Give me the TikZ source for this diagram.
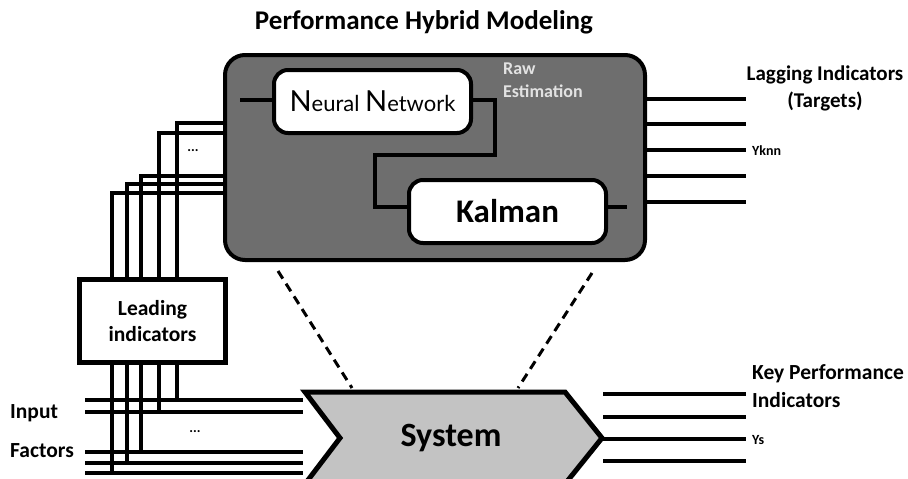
\documentclass[tikz,border=0pt]{standalone}
\usepackage{fontspec}
\setmainfont{Carlito}
\newfontfamily\nnfont{Lato}
\definecolor{darkpanel}{HTML}{6E6E6E}
\definecolor{syspanel}{HTML}{C3C3C3}
\definecolor{rawtext}{HTML}{E2E2E2}
\begin{document}
\begin{tikzpicture}[x=1pt,y=-1pt,
  wire/.style={line width=3.2pt},
  lbl/.style={font=\fontsize{21.5}{24}\selectfont\bfseries, inner sep=0pt},
  small/.style={font=\fontsize{14}{15}\selectfont\bfseries, inner sep=0pt},
  whitebox/.style={draw, fill=white, line width=4pt, rounded corners=14pt, inner sep=0pt},
  dashline/.style={line width=3pt, dash pattern=on 9pt off 6pt}]
\useasboundingbox (0,0) rectangle (908,479);
\clip (0,0) rectangle (908,479);

% title
\node[font=\fontsize{27}{30}\selectfont\bfseries, inner sep=0pt] (title) at (424,22) {Performance Hybrid Modeling};

% hybrid model panel
\node[draw, fill=darkpanel, line width=4pt, rounded corners=20pt,
      minimum width=420pt, minimum height=205pt, inner sep=0pt] (hybrid) at (435,157.5) {};
\node[whitebox, minimum width=197pt, minimum height=63pt] (nn) at (372.5,101.5)
  {\nnfont\fontsize{22}{26}\selectfont\fontsize{29}{30}\selectfont N\fontsize{22}{26}\selectfont eural \fontsize{29}{30}\selectfont N\fontsize{22}{26}\selectfont etwork};
\node[whitebox, minimum width=197pt, minimum height=63pt] (kal) at (507.5,211.5)
  {\fontsize{33}{35}\selectfont\bfseries Kalman};
\node[font=\fontsize{18}{23}\selectfont\bfseries, text=rawtext, align=left, anchor=north west, inner sep=0pt]
  (raw) at (503,63) {Raw\\Estimation};

\coordinate (nnin) at (240,100);
\coordinate (kalout) at (627,207);
\draw[wire] (nnin) -- (nnin -| nn.west);
\draw[wire] (nn.east |- 0,100) -- (495,100) -- (495,155) -- (375,155) -- (375,207) -- (kal.west |- 0,207);
\draw[wire] (kal.east |- 0,207) -- (kalout);

% system block
\draw[line width=5pt, fill=syspanel, line join=miter]
  (305,392) -- (565,392) -- (602,438) -- (565,484) -- (305,484) -- (340,438) -- cycle;
\node[font=\fontsize{34}{36}\selectfont\bfseries, inner sep=0pt] (sys) at (451,438) {System};

% dashed zoom lines
\draw[dashline] (278,271) -- (352,388);
\draw[dashline] (592,273) -- (518,388);

% leading indicators
\node[draw, fill=white, line width=5pt, minimum width=146pt, minimum height=83pt,
      align=center, lbl] (lead) at (152.5,321) {Leading\\[2pt]indicators};

% input factor lines
\foreach \y in {400,412,452,463,473}
  \draw[wire] (85,\y) -- (303,\y);
\foreach \x/\ytop/\ybot in {112/193/473,127/184/463,141/176/452,159/133/412,177/123/400} {
  \draw[wire] (\x,\ybot) -- (lead.south -| \x,0);
  \draw[wire] (lead.north -| \x,0) |- (hybrid.west |- 0,\ytop);
}
\node[small] (dotsa) at (193,151) {...};
\node[small] (dotsb) at (195,432) {...};
\node[lbl, anchor=west] (inp) at (10,413) {Input};
\node[lbl, anchor=west] (fac) at (10,451) {Factors};

% lagging indicator outputs
\foreach \y in {99,124,150,176,202}
  \draw[wire] (hybrid.east |- 0,\y) -- (746,\y);
\node[lbl, font=\fontsize{21}{24}\selectfont\bfseries, align=center] (lag) at (825,88) {Lagging Indicators\\[3pt](Targets)};
\node[small, anchor=west] (yknn) at (752,151) {Yknn};

% key performance outputs
\foreach \y in {394,417,439,461}
  \draw[wire] (603,\y) -- (746,\y);
\node[lbl, align=left, anchor=west] (kpi) at (752,386) {Key Performance\\[4pt]Indicators};
\node[small, anchor=west] (ys) at (752,440) {Ys};
\end{tikzpicture}
\end{document}
